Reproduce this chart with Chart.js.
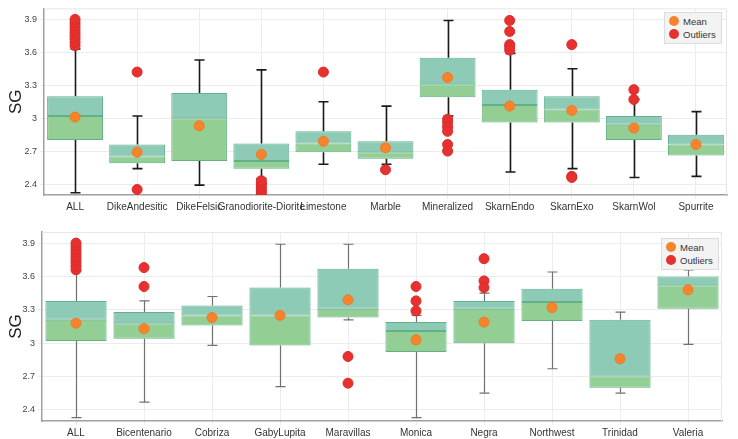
<!DOCTYPE html>
<html>
<head>
<meta charset="utf-8">
<script src="https://cdn.jsdelivr.net/npm/chart.js@4.4.0/dist/chart.umd.min.js"></script>
<style>
    body { margin: 0; background: #fff; }
    #wrap { position: relative; width: 738px; height: 439px; font-family: "Liberation Sans", Arial, sans-serif; }
    canvas { position: absolute; left: 0; }
    .legend { position: absolute; background: #f3f3f3; border: 1px solid #dcdcdc; padding: 2px 5px 2px 4px; font-size: 9.5px; color: #333; line-height: 13px; }
    .legend span.dot { display: inline-block; width: 10px; height: 10px; border-radius: 50%; vertical-align: -1px; margin-right: 4px; }
</style>
</head>
<body>
<div id="wrap">
    <canvas id="topChart" width="738" height="219" style="top:0"></canvas>
    <canvas id="botChart" width="738" height="220" style="top:219px"></canvas>
    <div class="legend" style="left:664px; top:12px;">
        <div><span class="dot" style="background:#f5842c"></span>Mean</div>
        <div><span class="dot" style="background:#e5312f"></span>Outliers</div>
    </div>
    <div class="legend" style="left:661px; top:238px;">
        <div><span class="dot" style="background:#f5842c"></span>Mean</div>
        <div><span class="dot" style="background:#e5312f"></span>Outliers</div>
    </div>
</div>
<script>
// y axis ticks (both panels)
const yTicks = [2.4, 2.7, 3, 3.3, 3.6, 3.9];

// top panel - by lithology
const topCats = ['ALL', 'DikeAndesitic', 'DikeFelsic', 'Granodiorite-Diorite', 'Limestone', 'Marble',
    'Mineralized', 'SkarnEndo', 'SkarnExo', 'SkarnWol', 'Spurrite'];
const topMin  = [2.32, 2.54, 2.39, 2.45, 2.58, 2.58, 3.02, 2.51, 2.54, 2.46, 2.47];
const topQ1   = [2.80, 2.59, 2.61, 2.54, 2.69, 2.63, 3.19, 2.96, 2.96, 2.80, 2.66];
const topMed  = [3.02, 2.65, 3.00, 2.61, 2.77, 2.69, 3.31, 3.12, 3.08, 2.94, 2.76];
const topQ3   = [3.20, 2.76, 3.23, 2.77, 2.88, 2.79, 3.55, 3.26, 3.20, 3.02, 2.85];
const topMax  = [3.63, 3.02, 3.53, 3.44, 3.15, 3.11, 3.89, 3.59, 3.45, 3.17, 3.06];
const topMean = [3.01, 2.69, 2.93, 2.67, 2.79, 2.73, 3.37, 3.11, 3.07, 2.91, 2.76];
const topOutliers = [
    [3.66, 3.69, 3.72, 3.75, 3.78, 3.81, 3.84, 3.87, 3.90],
    [3.42, 2.35],
    [],
    [2.31, 2.33, 2.35, 2.37, 2.39, 2.41, 2.43],
    [3.42],
    [2.53],
    [2.99, 2.96, 2.92, 2.88, 2.76, 2.70],
    [3.89, 3.79, 3.67, 3.65, 3.62],
    [3.67, 2.47, 2.46],
    [3.26, 3.17],
    []
];

// bottom panel - by deposit
const botCats = ['ALL', 'Bicentenario', 'Cobriza', 'GabyLupita', 'Maravillas', 'Monica', 'Negra',
    'Northwest', 'Trinidad', 'Valeria'];
const botMin  = [2.33, 2.47, 2.98, 2.61, 3.21, 2.33, 2.55, 2.77, 2.55, 2.99];
const botQ1   = [3.02, 3.04, 3.16, 2.98, 3.23, 2.92, 3.00, 3.20, 2.60, 3.31];
const botMed  = [3.21, 3.18, 3.25, 3.25, 3.31, 3.11, 3.31, 3.37, 2.70, 3.52];
const botQ3   = [3.38, 3.28, 3.34, 3.50, 3.67, 3.19, 3.38, 3.49, 3.21, 3.60];
const botMax  = [3.65, 3.38, 3.42, 3.89, 3.89, 3.25, 3.45, 3.64, 3.28, 3.66];
const botMean = [3.18, 3.13, 3.23, 3.25, 3.39, 3.03, 3.19, 3.32, 2.86, 3.48];
const botOutliers = [
    [3.66, 3.69, 3.72, 3.75, 3.78, 3.81, 3.84, 3.87, 3.90],
    [3.68, 3.51],
    [],
    [],
    [2.88, 2.64],
    [3.51, 3.38, 3.29],
    [3.76, 3.56, 3.50],
    [],
    [],
    []
];

const whiskerPlugin = {
    id: 'whiskers',
    beforeDatasetsDraw(chart) {
        const w = chart.options.plugins.whiskers;
        const xs = chart.scales.x, ys = chart.scales.y;
        const ctx = chart.ctx;
        ctx.save();
        ctx.strokeStyle = w.color;
        ctx.lineWidth = w.width;
        w.min.forEach((v, i) => {
            const x = Math.round(xs.getPixelForValue(i)) + 0.5;
            const segs = [[w.q1[i], w.min[i]], [w.q3[i], w.max[i]]];
            segs.forEach(([a, b]) => {
                const ya = ys.getPixelForValue(a), yb = ys.getPixelForValue(b);
                ctx.beginPath();
                ctx.moveTo(x, ya);
                ctx.lineTo(x, yb);
                ctx.moveTo(x - w.cap, yb);
                ctx.lineTo(x + w.cap, yb);
                ctx.stroke();
            });
        });
        ctx.restore();
    },
    afterDraw(chart) {
        // light frame on top / right of plot area
        const a = chart.chartArea, ctx = chart.ctx;
        ctx.save();
        ctx.strokeStyle = '#e6e6e6';
        ctx.lineWidth = 1;
        ctx.beginPath();
        ctx.moveTo(a.left, a.top + 0.5);
        ctx.lineTo(a.right - 0.5, a.top + 0.5);
        ctx.lineTo(a.right - 0.5, a.bottom);
        ctx.stroke();
        ctx.restore();
    }
};

function makeChart(id, cats, mins, q1, med, q3, maxs, means, outliers, cfg) {
    const ctx = document.getElementById(id).getContext('2d');
    const outlierPts = cats.flatMap((c, i) => outliers[i].map(v => ({x: c, y: v})));
    const meanPts = cats.map((c, i) => ({x: c, y: means[i]}));
    return new Chart(ctx, {
        type: 'bar',
        data: {
            labels: cats,
            datasets: [
                {
                    type: 'line', label: 'Mean', data: meanPts, showLine: false, order: 0,
                    pointRadius: 5, pointBackgroundColor: '#f5842c', pointBorderColor: '#f07a24', pointBorderWidth: 1
                },
                {
                    type: 'line', label: 'Outliers', data: outlierPts, showLine: false, order: 0,
                    pointRadius: 5, pointBackgroundColor: '#e5312f', pointBorderColor: '#de2a2a', pointBorderWidth: 1
                },
                {
                    label: 'lower', data: cats.map((c, i) => [q1[i], med[i]]), grouped: false, order: 1,
                    backgroundColor: '#93cf95', borderColor: '#62b083', borderWidth: 1, borderSkipped: false
                },
                {
                    label: 'upper', data: cats.map((c, i) => [med[i], q3[i]]), grouped: false, order: 1,
                    backgroundColor: '#8ecbb7', borderColor: '#62b08f', borderWidth: 1, borderSkipped: false
                }
            ]
        },
        options: {
            responsive: false,
            animation: false,
            barPercentage: 0.9,
            categoryPercentage: 1,
            layout: { padding: cfg.padding },
            plugins: {
                legend: { display: false },
                tooltip: { enabled: false },
                whiskers: { min: mins, q1: q1, q3: q3, max: maxs, color: cfg.whiskerColor, width: cfg.whiskerWidth, cap: 5 }
            },
            scales: {
                x: {
                    grid: { color: '#ececec', offset: false, drawTicks: true, tickLength: 4 },
                    border: { color: '#a0a0a0', width: 1.5 },
                    ticks: { color: '#333', font: { size: 10, family: 'Liberation Sans' }, maxRotation: 0, autoSkip: false, padding: 2 },
                    afterFit: (s) => { s.height = cfg.xHeight; }
                },
                y: {
                    min: 2.3, max: 4.0,
                    afterBuildTicks: (s) => { s.ticks = yTicks.map(v => ({value: v})); },
                    grid: { color: '#ececec', tickLength: 4 },
                    border: { color: '#a0a0a0', width: 1.5 },
                    ticks: { color: '#444', font: { size: 9, family: 'Liberation Sans' }, padding: 3,
                        callback: (v) => String(+Number(v).toFixed(1)) },
                    title: { display: true, text: 'SG', color: '#222', font: { size: 17, family: 'Liberation Sans' }, padding: { top: 6, bottom: 2 } },
                    afterFit: (s) => { s.width = cfg.yWidth; }
                }
            }
        },
        plugins: [whiskerPlugin]
    });
}

makeChart('topChart', topCats, topMin, topQ1, topMed, topQ3, topMax, topMean, topOutliers,
    { padding: { top: 5, right: 11, left: 0, bottom: 0 }, whiskerColor: '#1a1a1a', whiskerWidth: 1.6, xHeight: 24, yWidth: 44 });
makeChart('botChart', botCats, botMin, botQ1, botMed, botQ3, botMax, botMean, botOutliers,
    { padding: { top: 13, right: 16, left: 0, bottom: 0 }, whiskerColor: '#707070', whiskerWidth: 1.2, xHeight: 18, yWidth: 42 });
</script>
</body>
</html>
